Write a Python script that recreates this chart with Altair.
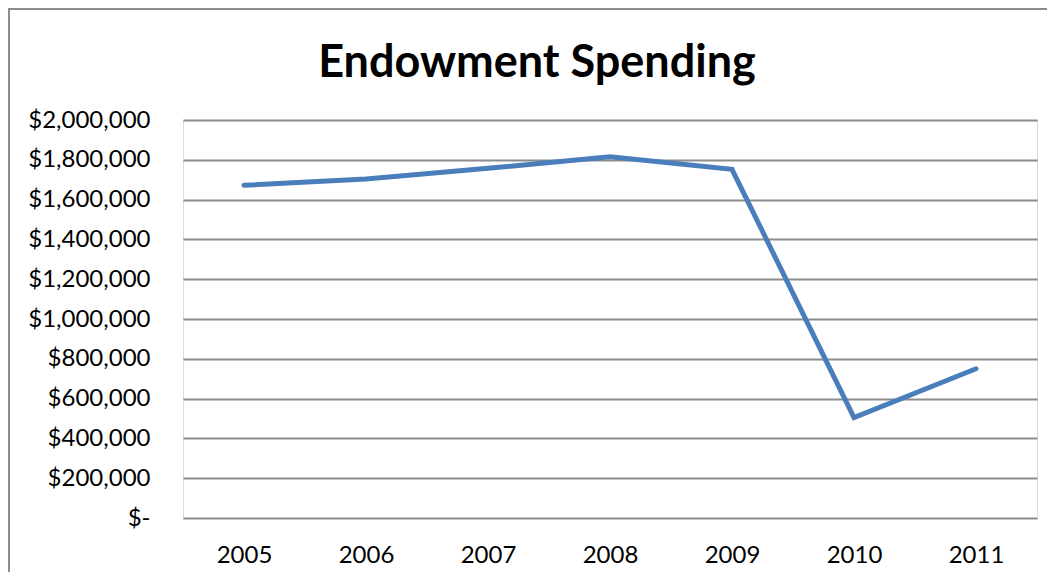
import altair as alt
import pandas as pd

years = ["2005", "2006", "2007", "2008", "2009", "2010", "2011"]
spending = [1672000, 1703000, 1757000, 1815000, 1752000, 505000, 750000]
y_ticks = [0, 200000, 400000, 600000, 800000, 1000000, 1200000, 1400000,
           1600000, 1800000, 2000000]

df = pd.DataFrame({"Year": years, "Spending": spending})

PW, PH = 854, 398
PAD = {"left": 175, "top": 112, "right": 10, "bottom": 54}

line = alt.Chart(df).mark_line(
    color="#4a7ebb", strokeWidth=5, strokeCap="round", strokeJoin="miter"
).encode(
    x=alt.X("Year:O", sort=years,
            scale=alt.Scale(type="point", padding=0.5),
            axis=alt.Axis(title=None, labelAngle=0, ticks=False, tickSize=0,
                          domain=False, grid=False, labelPadding=25,
                          labelFont="Lato", labelFontSize=24,
                          labelColor="#000000")),
    y=alt.Y("Spending:Q",
            scale=alt.Scale(domain=[0, 2000000], nice=False, zero=True),
            axis=alt.Axis(title=None, values=y_ticks, ticks=False, tickSize=0,
                          domain=False, grid=True, gridColor="#8c8c8c",
                          gridWidth=2, labelPadding=33,
                          labelFont="Lato", labelFontSize=24,
                          labelColor="#000000",
                          labelExpr="datum.value == 0 ? '$-' : '$' + format(datum.value, ',')")),
)

frame_df = pd.DataFrame({"a": [0]})
top_rule = alt.Chart(frame_df).mark_rule(color="#8c8c8c", strokeWidth=2).encode(
    x=alt.value(-PAD["left"]), x2=alt.value(PW + PAD["right"]),
    y=alt.value(-PAD["top"] + 1),
)
left_rule = alt.Chart(frame_df).mark_rule(color="#8c8c8c", strokeWidth=2).encode(
    x=alt.value(-PAD["left"] + 1),
    y=alt.value(-PAD["top"]), y2=alt.value(PH + PAD["bottom"]),
)

chart = alt.layer(line, top_rule, left_rule).properties(
    width=PW, height=PH,
    padding=PAD,
    autosize=alt.AutoSizeParams(type="none"),
    title=alt.TitleParams(
        "Endowment Spending", font="Lato", fontSize=45, fontWeight="bold",
        color="#000000", anchor="middle", frame="group", dx=-73,
        baseline="bottom", offset=-124,
    ),
).configure_view(stroke=None).configure(background="white")

chart.save("out.html", embed_options={"renderer": "svg", "actions": False})
